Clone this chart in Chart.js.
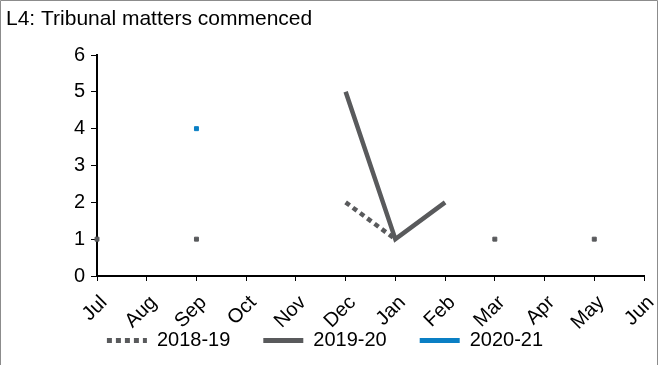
<!DOCTYPE html>
<html>
<head>
<meta charset="utf-8">
<script src="https://cdn.jsdelivr.net/npm/chart.js@4"></script>
<style>
  html, body { margin: 0; padding: 0; background: #fff; }
  #wrap { width: 659px; height: 365px; }
</style>
</head>
<body>
<div id="wrap"><canvas id="myChart" width="659" height="365"></canvas></div>
<script>
const months = ['Jul', 'Aug', 'Sep', 'Oct', 'Nov', 'Dec', 'Jan', 'Feb', 'Mar', 'Apr', 'May', 'Jun']
const fy1819 = [1, null, 1, null, null, 2, 1, null, 1, null, 1, null]
const fy1920 = [null, null, null, null, null, 5, 1, 2, null, null, null, null]
const fy2021 = [null, null, 4, null, null, null, null, null, null, null, null, null]
const yTicks = [0, 1, 2, 3, 4, 5, 6]

const GREY = '#595a5c'
const BLUE = '#0a7fc4'
const FONT = "'Liberation Sans', Arial, sans-serif"

// show a small square only where a value has no neighbour to join to
const loneRadius = ctx => {
  const d = ctx.dataset.data
  const i = ctx.dataIndex
  if (d[i] == null) return 0
  const prev = i > 0 ? d[i - 1] : null
  const next = i < d.length - 1 ? d[i + 1] : null
  return prev == null && next == null ? 2.8 : 0
}

const series = (label, values, color, dash) => ({
  label,
  data: values,
  borderColor: color,
  backgroundColor: color,
  borderWidth: 4.5,
  borderDash: dash,
  borderCapStyle: 'butt',
  pointStyle: 'rect',
  pointRadius: loneRadius,
  pointHoverRadius: loneRadius,
  pointBorderWidth: 1,
  pointBorderColor: color,
  pointBackgroundColor: color,
  spanGaps: false,
  clip: false,
  tension: 0,
})

const frame = {
  id: 'frame',
  // month labels hang down into the legend band, so don't clip them to the axis box
  afterLayout: chart => {
    chart.scales.x.bottom = chart.height
  },
  afterDraw: chart => {
    const c = chart.ctx
    c.save()
    c.strokeStyle = '#8c8c8c'
    c.lineWidth = 1
    c.beginPath()
    c.moveTo(0.5, chart.height)
    c.lineTo(0.5, 0.5)
    c.lineTo(657.5, 0.5)
    c.lineTo(657.5, chart.height)
    c.stroke()
    c.restore()
  },
}

Chart.defaults.font.family = FONT
Chart.defaults.color = '#000'

new Chart(document.getElementById('myChart'), {
  type: 'line',
  data: {
    labels: months,
    datasets: [
      series('2018-19', fy1819, GREY, [5, 4]),
      series('2019-20', fy1920, GREY, []),
      series('2020-21', fy2021, BLUE, []),
    ],
  },
  plugins: [frame],
  options: {
    animation: false,
    responsive: false,
    layout: { padding: { left: 6, right: 15, top: 4, bottom: 4.5 } },
    scales: {
      x: {
        offset: false,
        grid: { display: true, drawOnChartArea: false, color: '#000', tickLength: 5, lineWidth: 1 },
        border: { color: '#000', width: 2 },
        ticks: { font: { size: 20 }, color: '#000', maxRotation: 45, minRotation: 45, padding: 10, labelOffset: 7, autoSkip: false },
        afterFit: s => {
          s.height = 21.5
          s.paddingLeft = 0
          s.paddingRight = 0
        },
      },
      y: {
        min: 0,
        max: 6,
        afterBuildTicks: s => { s.ticks = yTicks.map(v => ({ value: v })) },
        grid: { display: true, drawOnChartArea: false, color: '#000', tickLength: 6, lineWidth: 1 },
        border: { color: '#000', width: 2 },
        ticks: { font: { size: 20 }, color: '#000', padding: 6 },
        afterFit: s => { s.width = 91 },
      },
    },
    plugins: {
      title: {
        display: true,
        text: 'L4: Tribunal matters commenced',
        align: 'start',
        color: '#000',
        font: { size: 21, weight: 'normal' },
        padding: { top: 3, bottom: 22.8 },
      },
      legend: {
        position: 'bottom',
        labels: {
          font: { size: 20 },
          color: '#000',
          usePointStyle: true,
          pointStyle: 'line',
          pointStyleWidth: 40,
          padding: 33,
          generateLabels: chart => chart.data.datasets.map((ds, i) => ({
            text: ds.label,
            fillStyle: ds.borderColor,
            strokeStyle: ds.borderColor,
            lineWidth: 5,
            lineDash: ds.borderDash,
            lineCap: 'butt',
            pointStyle: 'line',
            hidden: false,
            datasetIndex: i,
            fontColor: '#000',
          })),
        },
      },
      tooltip: { enabled: false },
    },
  },
})
</script>
</body>
</html>
